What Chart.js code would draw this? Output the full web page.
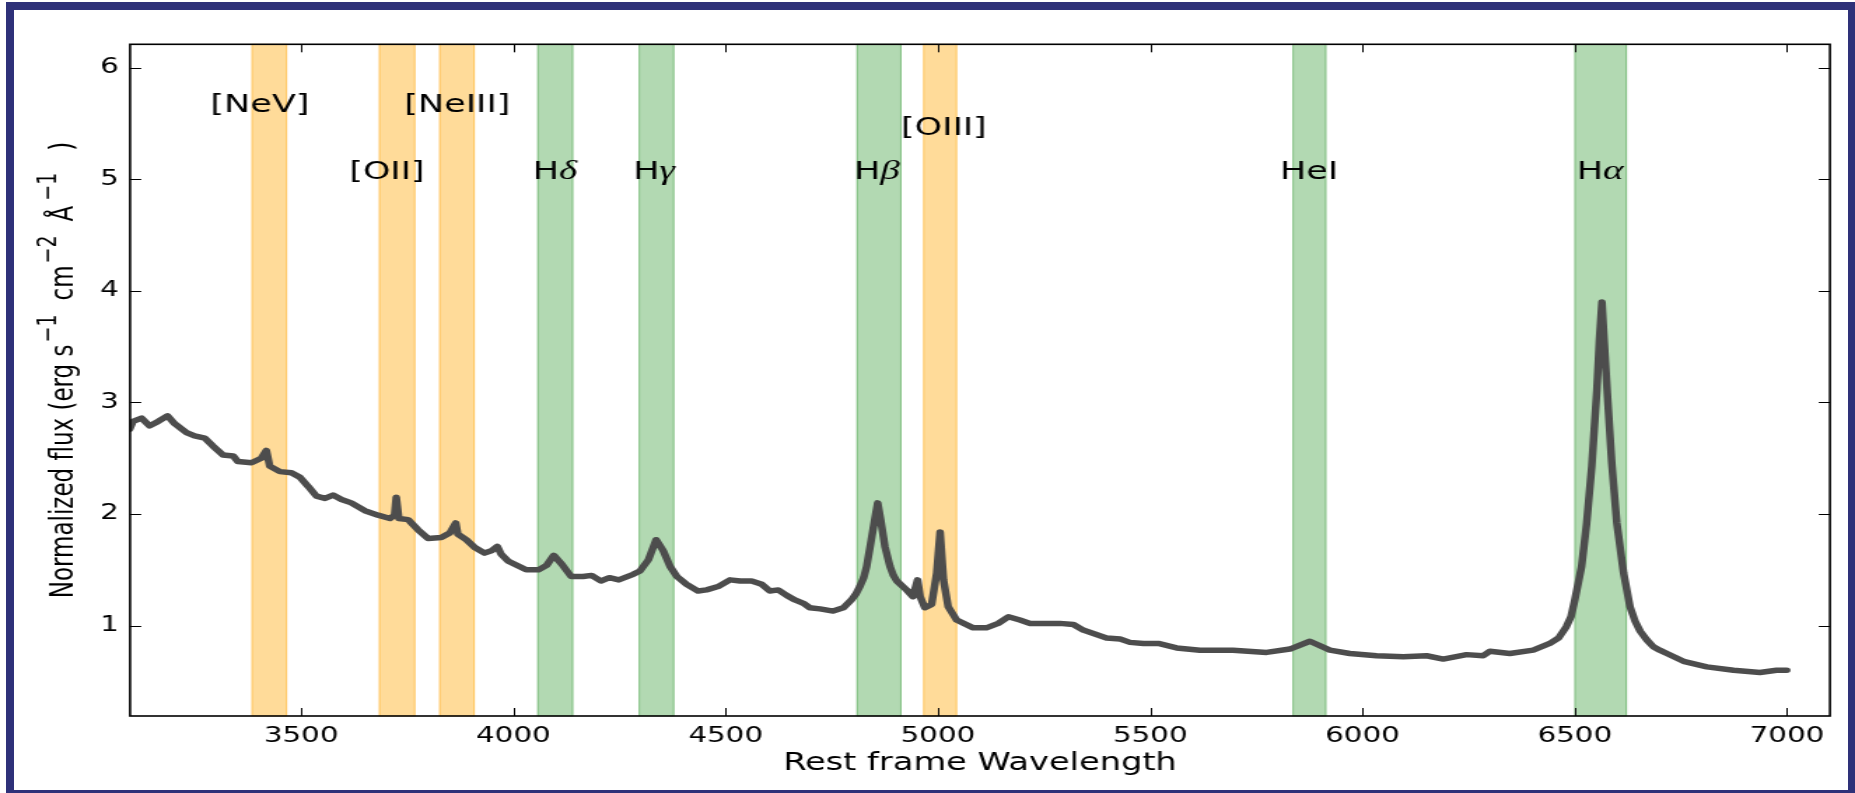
<!DOCTYPE html>
<html>
<head>
<meta charset="utf-8">
<title>Spectrum</title>
<script src="https://cdn.jsdelivr.net/npm/chart.js@4.4.1/dist/chart.umd.min.js"></script>
<style>
  html, body { margin: 0; padding: 0; background: #fff; }
  body { width: 1855px; height: 793px; position: relative; overflow: hidden; }
  /* the reference figure is stretched sideways, so the chart is drawn narrow and scaled */
  #stretch { position: absolute; left: 0; top: 0; width: 1325px; height: 793px; transform: scaleX(1.4); transform-origin: 0 0; }
  #frame { position: absolute; left: 6px; top: 2px; width: 1849px; height: 791px; box-sizing: border-box;
           border-style: solid; border-color: #2e3179; border-width: 8px 7px 3px 8px; pointer-events: none; }
</style>
</head>
<body>
<div id="stretch"><canvas id="chart"></canvas></div>
<div id="frame"></div>
<script>
// Spectrum: rest wavelength (Angstrom) and normalized flux
const wavelength = [3096, 3104, 3124, 3143, 3163, 3185, 3202, 3230, 3249, 3273, 3292, 3316, 3340, 3351, 3383,
    3406, 3418, 3426, 3450, 3477, 3497, 3516, 3536, 3556, 3575, 3595, 3618, 3650, 3681, 3709, 3720, 3724, 3730,
    3752, 3775, 3799, 3830, 3850, 3864, 3869, 3889, 3909, 3932, 3948, 3962, 3971, 3987, 4030, 4059, 4078, 4095,
    4114, 4136, 4164, 4184, 4206, 4226, 4248, 4282, 4298, 4318, 4336, 4353, 4369, 4385, 4408, 4435, 4455, 4482,
    4510, 4534, 4561, 4585, 4604, 4624, 4644, 4663, 4683, 4698, 4722, 4753, 4777, 4796, 4806, 4816, 4825, 4832,
    4843, 4851, 4858, 4865, 4875, 4887, 4895, 4903, 4926, 4941, 4952, 4958, 4969, 4985, 4997, 5005, 5013, 5024,
    5044, 5083, 5114, 5142, 5166, 5193, 5217, 5256, 5287, 5319, 5342, 5366, 5397, 5429, 5452, 5484, 5519, 5562,
    5617, 5695, 5774, 5829, 5876, 5923, 5970, 6033, 6096, 6151, 6190, 6245, 6284, 6300, 6347, 6402, 6441, 6462,
    6480, 6491, 6500, 6516, 6528, 6540, 6552, 6558, 6564, 6569, 6577, 6587, 6599, 6615, 6630, 6642, 6654, 6670,
    6685, 6700, 6717, 6756, 6811, 6874, 6936, 6975, 6999];
const flux = [2.76, 2.83, 2.86, 2.79, 2.83, 2.88, 2.81, 2.73, 2.70, 2.68, 2.61, 2.53, 2.52, 2.47, 2.46,
    2.50, 2.57, 2.43, 2.38, 2.37, 2.33, 2.25, 2.16, 2.14, 2.17, 2.13, 2.10, 2.03, 1.99, 1.96, 1.99, 2.15, 1.96,
    1.95, 1.86, 1.78, 1.79, 1.83, 1.92, 1.82, 1.77, 1.70, 1.65, 1.67, 1.71, 1.64, 1.58, 1.50, 1.50, 1.54, 1.63,
    1.55, 1.44, 1.44, 1.45, 1.40, 1.43, 1.41, 1.46, 1.49, 1.59, 1.77, 1.67, 1.53, 1.44, 1.37, 1.31, 1.32, 1.35,
    1.41, 1.40, 1.40, 1.37, 1.31, 1.32, 1.27, 1.23, 1.20, 1.16, 1.15, 1.13, 1.16, 1.23, 1.28, 1.35, 1.43, 1.53,
    1.77, 1.95, 2.10, 1.95, 1.71, 1.53, 1.45, 1.40, 1.32, 1.26, 1.41, 1.26, 1.16, 1.19, 1.47, 1.84, 1.41, 1.17,
    1.05, 0.98, 0.98, 1.02, 1.08, 1.05, 1.02, 1.02, 1.02, 1.01, 0.96, 0.93, 0.89, 0.88, 0.85, 0.84, 0.84, 0.80,
    0.78, 0.78, 0.76, 0.79, 0.86, 0.78, 0.75, 0.73, 0.72, 0.73, 0.70, 0.74, 0.73, 0.77, 0.75, 0.78, 0.84, 0.89,
    0.99, 1.08, 1.23, 1.53, 1.92, 2.43, 3.11, 3.56, 3.90, 3.56, 3.06, 2.46, 1.92, 1.47, 1.17, 1.04, 0.95, 0.87,
    0.81, 0.78, 0.75, 0.68, 0.63, 0.60, 0.58, 0.60, 0.60];

// Shaded line windows (Angstrom); 'n' = forbidden/narrow (orange), 'b' = broad H/He (green)
const bandStart = [3383, 3683, 3825, 4056, 4295, 4808, 4965, 5835, 6499];
const bandEnd = [3467, 3769, 3909, 4141, 4379, 4914, 5045, 5915, 6623];
const bandKind = ['n', 'n', 'n', 'b', 'b', 'b', 'n', 'b', 'b'];

// Line labels and where they sit (data coordinates)
const lineLabels = ['[NeV]', '[OII]', '[NeIII]', 'Hδ', 'Hγ', 'Hβ', '[OIII]', 'HeI', 'Hα'];
const labelWave = [3403, 3702, 3868, 4098, 4331, 4856, 5014, 5874, 6560];
const labelFlux = [5.6, 5.0, 5.6, 5.0, 5.0, 5.0, 5.4, 5.0, 5.0];

// Axes
const xTickValues = [3500, 4000, 4500, 5000, 5500, 6000, 6500, 7000];
const yTickValues = [1, 2, 3, 4, 5, 6];
const xRange = [3097, 7101];
const yRange = [0.19, 6.21];
const xTitle = 'Rest frame Wavelength';
// y title pieces: text, superscript?, gap before it
const yTitleParts = [['Normalized flux (erg s', 0, 0], ['−1', 1, 2], ['cm', 0, 14], ['−2', 1, 2],
    ['Å', 0, 14], ['−1', 1, 5], [')', 0, 22]];

Chart.defaults.font.family = '"DejaVu Sans", sans-serif';
Chart.defaults.color = '#000';

const bandColour = { n: 'rgba(255,165,0,0.4)', b: 'rgba(0,128,0,0.3)' };

// Shaded bands, spines, inward ticks, labels and titles
const spectrumDecor = {
    id: 'spectrumDecor',
    beforeDatasetsDraw(chart) {
        const { ctx, chartArea: a, scales: { x } } = chart;
        ctx.save();
        for (let i = 0; i < bandStart.length; i++) {
            const x1 = x.getPixelForValue(bandStart[i]);
            const x2 = x.getPixelForValue(bandEnd[i]);
            ctx.fillStyle = bandColour[bandKind[i]];
            ctx.fillRect(x1, a.top, x2 - x1, a.bottom - a.top);
            ctx.strokeStyle = bandColour[bandKind[i]];
            ctx.lineWidth = 1;
            ctx.strokeRect(x1 + 0.5, a.top, x2 - x1 - 1, a.bottom - a.top);
        }
        ctx.restore();
    },
    afterDatasetsDraw(chart) {
        const { ctx, chartArea: a, scales: { x, y } } = chart;
        ctx.save();

        // line labels
        ctx.fillStyle = '#000';
        ctx.textBaseline = 'alphabetic';
        ctx.textAlign = 'left';
        const mainFont = '25px "DejaVu Sans"';
        const greekFont = 'italic 28px "Liberation Serif"';
        for (let i = 0; i < lineLabels.length; i++) {
            const m = lineLabels[i].match(/^(.*?)([α-ω]?)$/);
            ctx.font = mainFont;
            const w1 = ctx.measureText(m[1]).width;
            ctx.font = greekFont;
            const w2 = m[2] ? ctx.measureText(m[2]).width : 0;
            const cx = x.getPixelForValue(labelWave[i]);
            const by = y.getPixelForValue(labelFlux[i]);
            const sx = cx - (w1 + w2) / 2;
            ctx.font = mainFont;
            ctx.fillText(m[1], sx, by);
            if (m[2]) {
                ctx.font = greekFont;
                ctx.fillText(m[2], sx + w1, by);
            }
        }

        // spines
        ctx.strokeStyle = '#000';
        ctx.lineWidth = 1.6;
        ctx.strokeRect(a.left, a.top, a.right - a.left, a.bottom - a.top);

        // inward ticks on all four sides
        ctx.lineWidth = 1;
        ctx.beginPath();
        for (const v of xTickValues) {
            const px = Math.round(x.getPixelForValue(v)) + 0.5;
            ctx.moveTo(px, a.bottom); ctx.lineTo(px, a.bottom - 8);
            ctx.moveTo(px, a.top); ctx.lineTo(px, a.top + 8);
        }
        for (const v of yTickValues) {
            const py = Math.round(y.getPixelForValue(v)) + 0.5;
            ctx.moveTo(a.left, py); ctx.lineTo(a.left + 8, py);
            ctx.moveTo(a.right, py); ctx.lineTo(a.right - 8, py);
        }
        ctx.stroke();

        // x title
        ctx.font = '24px "DejaVu Sans"';
        ctx.textAlign = 'center';
        ctx.fillText(xTitle, (a.left + a.right) / 2, 770);

        // y title with superscripts, rotated
        const fonts = ['23px "DejaVu Sans"', '19px "DejaVu Sans"'];
        let total = 0;
        for (const p of yTitleParts) { ctx.font = fonts[p[1]]; total += p[2] + ctx.measureText(p[0]).width; }
        ctx.translate(52, 370);
        ctx.rotate(-Math.PI / 2);
        ctx.textAlign = 'left';
        let pos = -total / 2;
        for (const p of yTitleParts) {
            ctx.font = fonts[p[1]];
            pos += p[2];
            ctx.fillText(p[0], pos, p[1] ? -12 : 0);
            pos += ctx.measureText(p[0]).width;
        }
        ctx.restore();
    }
};

const ctx = document.getElementById('chart').getContext('2d');
const chart = new Chart(ctx, {
    type: 'line',
    data: {
        datasets: [{
            data: wavelength.map((w, i) => ({ x: w, y: flux[i] })),
            borderColor: '#4d4d4d',
            borderWidth: 5.5,
            pointRadius: 0,
            tension: 0,
            borderJoinStyle: 'round',
            borderCapStyle: 'round',
            fill: false
        }]
    },
    options: {
        responsive: true,
        maintainAspectRatio: false,
        animation: false,
        layout: { padding: { left: 0, right: 17.9, top: 44.3, bottom: 0 } },
        plugins: { legend: { display: false }, tooltip: { enabled: false } },
        scales: {
            x: {
                type: 'linear',
                min: xRange[0],
                max: xRange[1],
                grid: { display: false, drawTicks: false },
                border: { display: false },
                afterBuildTicks: (s) => { s.ticks = xTickValues.map(v => ({ value: v })); },
                afterFit: (s) => { s.height = 77; },
                ticks: { font: { size: 21 }, color: '#000', padding: 8, maxRotation: 0, callback: (v) => String(v) }
            },
            y: {
                type: 'linear',
                min: yRange[0],
                max: yRange[1],
                grid: { display: false, drawTicks: false },
                border: { display: false },
                afterBuildTicks: (s) => { s.ticks = yTickValues.map(v => ({ value: v })); },
                afterFit: (s) => { s.width = 92.9; },
                ticks: { font: { size: 21 }, color: '#000', padding: 8, callback: (v) => String(v) }
            }
        }
    },
    plugins: [spectrumDecor]
});
</script>
</body>
</html>
